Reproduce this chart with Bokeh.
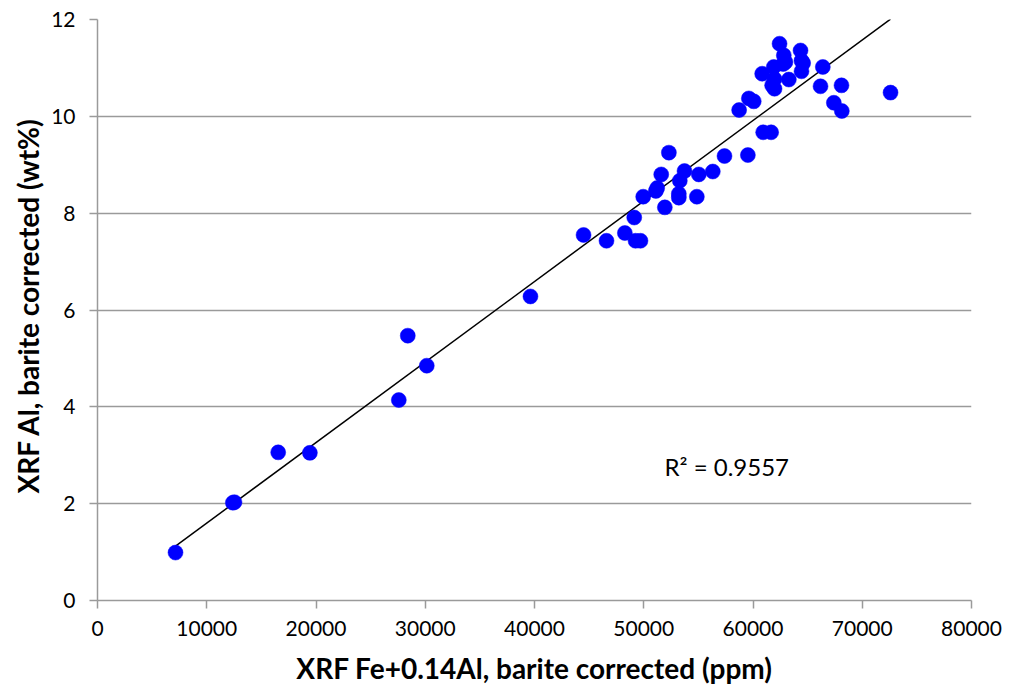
import numpy as np
from bokeh.plotting import figure
from bokeh.models import FixedTicker, BasicTickFormatter, Label, ColumnDataSource, Title
from bokeh.embed import file_html
from bokeh.resources import INLINE

# Fe+0.14Al (ppm) versus Al (wt%), both barite corrected
fe_al_ppm = [7140, 12390, 12540, 16540, 19440, 27580, 30140, 28400, 39630,
             44490, 46590, 48270, 49250, 49700, 49130, 49950, 51110, 51230,
             51930, 51600, 52300, 53210, 53210, 53300, 53730, 54860, 55040,
             56320, 57390, 59530, 60930, 61660, 58730, 59620, 60070, 60840,
             61900, 61970, 61750, 61970, 62430, 62820, 62760, 62970, 63280,
             64350, 64440, 64590, 64440, 66390, 66180, 68100, 67400, 68130,
             72590]
al_wt = [0.99, 2.02, 2.03, 3.06, 3.05, 4.14, 4.85, 5.47, 6.28,
         7.55, 7.43, 7.59, 7.43, 7.43, 7.91, 8.34, 8.46, 8.52,
         8.12, 8.80, 9.25, 8.40, 8.32, 8.67, 8.87, 8.34, 8.80,
         8.86, 9.18, 9.20, 9.67, 9.67, 10.13, 10.37, 10.31, 10.88,
         11.02, 10.77, 10.64, 10.57, 11.50, 11.26, 11.08, 11.12, 10.76,
         11.36, 11.15, 11.10, 10.93, 11.02, 10.62, 10.64, 10.28, 10.11,
         10.49]
x_ticks = [0, 10000, 20000, 30000, 40000, 50000, 60000, 70000, 80000]
y_ticks = [0, 2, 4, 6, 8, 10, 12]
r2_text = "R\u00b2 = 0.9557"

FONT = "Lato"
GRID = "#9a9a9a"

p = figure(width=1019, height=700, x_range=(0, 80000), y_range=(0, 12),
           output_backend="svg", toolbar_location=None,
           min_border_left=97, min_border_right=48,
           min_border_top=19, min_border_bottom=100)
p.outline_line_color = None
p.background_fill_color = "white"

# linear trendline over the data extent
slope, icept = np.polyfit(fe_al_ppm, al_wt, 1)
xl = np.array([min(fe_al_ppm), max(fe_al_ppm)])
p.line(xl, slope * xl + icept, line_color="black", line_width=1.5)

src = ColumnDataSource(dict(x=fe_al_ppm, y=al_wt))
p.scatter("x", "y", source=src, size=15, fill_color="#0000ff",
          line_color="#0000ff", line_width=0.5)

p.add_layout(Label(x=51900, y=2.77, text=r2_text, text_font=FONT,
                   text_font_size="24px", text_baseline="middle",
                   text_color="black"))

p.xaxis.ticker = FixedTicker(ticks=x_ticks)
p.yaxis.ticker = FixedTicker(ticks=y_ticks)
p.xaxis.formatter = BasicTickFormatter(use_scientific=False)
p.xgrid.grid_line_color = None
p.ygrid.ticker = FixedTicker(ticks=y_ticks)
p.ygrid.grid_line_color = GRID
p.ygrid.grid_line_width = 1.5

for ax in (p.xaxis, p.yaxis):
    ax.axis_line_color = GRID
    ax.axis_line_width = 1.5
    ax.major_tick_line_color = GRID
    ax.major_tick_line_width = 1.5
    ax.major_tick_out = 8
    ax.major_tick_in = 0
    ax.minor_tick_line_color = None
    ax.major_label_text_font = FONT
    ax.major_label_text_font_size = "21px"
    ax.major_label_text_color = "black"
    ax.axis_label_text_font = FONT
    ax.axis_label_text_font_size = "28px"
    ax.axis_label_text_font_style = "bold"
    ax.axis_label_text_color = "black"

p.xaxis.axis_label = "XRF Fe+0.14Al, barite corrected (ppm)"
p.xaxis.major_label_standoff = 12
p.yaxis.major_label_standoff = 14
p.xaxis.axis_label_standoff = 12

# vertical axis title, anchored from the bottom of the plot area
p.add_layout(Title(text="XRF Al, barite corrected (wt%)", align="left",
                   offset=107, standoff=8, text_font=FONT,
                   text_font_size="28px", text_font_style="bold",
                   text_color="black"), "left")

open("out.html", "w").write(file_html(p, INLINE))
